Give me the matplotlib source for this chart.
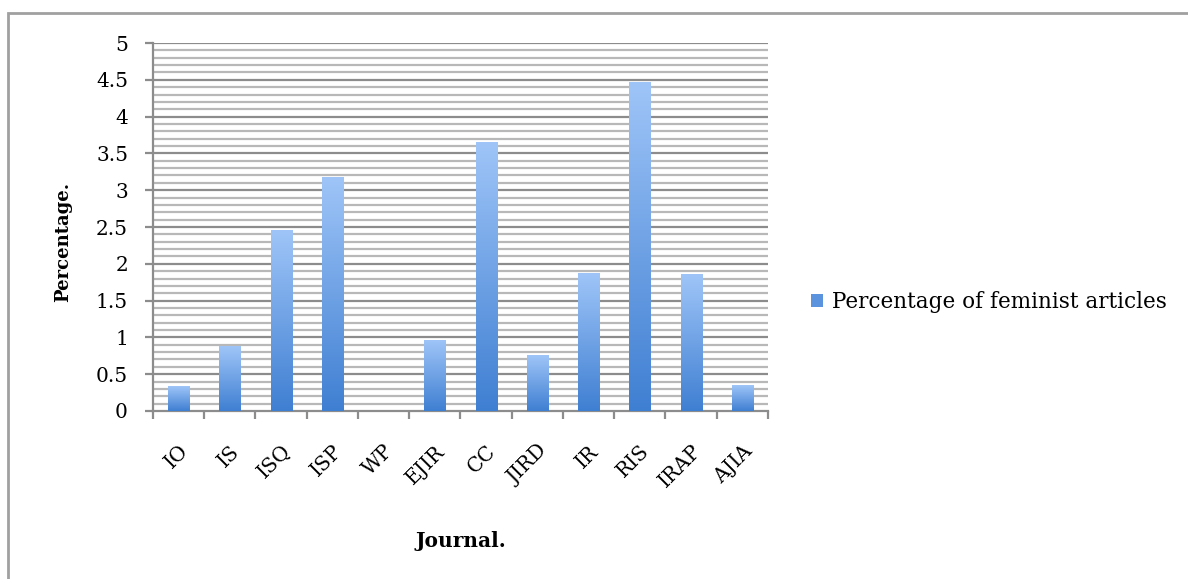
import matplotlib
matplotlib.use("Agg")
import matplotlib.pyplot as plt
import matplotlib.patches as mpatches
from matplotlib.colors import LinearSegmentedColormap
import numpy as np

journals = ["IO", "IS", "ISQ", "ISP", "WP", "EJIR", "CC", "JIRD", "IR", "RIS", "IRAP", "AJIA"]
percent = [0.33, 0.88, 2.45, 3.17, 0.0, 0.96, 3.65, 0.75, 1.87, 4.46, 1.86, 0.34]

plt.rcParams['font.family'] = ['DejaVu Serif']

fig = plt.figure(figsize=(11.88, 5.79), dpi=100)
ax = fig.add_axes([153 / 1188, 168 / 579, 615 / 1188, 368 / 579])

# gradient fill for bars: light on top, darker at base
cmap = LinearSegmentedColormap.from_list("bar", ["#3f7fd2", "#9fc5f8"])
grad = np.linspace(0, 1, 256).reshape(-1, 1)

x = np.arange(len(journals))
bars = ax.bar(x, percent, width=0.41, color='none', edgecolor='none', zorder=3)
for b in bars:
    h = b.get_height()
    if h > 0:
        ax.imshow(grad, extent=[b.get_x(), b.get_x() + b.get_width(), 0, h],
                  aspect='auto', cmap=cmap, origin='lower', zorder=3)

ax.set_xlim(-0.5, len(journals) - 0.5)
ax.set_ylim(0, 5)

# grid lines
for v in np.arange(0.1, 5.01, 0.1):
    major = abs(v * 2 - round(v * 2)) < 1e-6
    ax.axhline(v, color='#8c8c8c' if major else '#b8b8b8', lw=1.6, zorder=1)

ax.set_yticks(np.arange(0, 5.01, 0.5))
ax.set_yticklabels(["0", "0.5", "1", "1.5", "2", "2.5", "3", "3.5", "4", "4.5", "5"])
ax.set_xticks(np.arange(-0.5, len(journals), 1.0))
ax.set_xticklabels([])
ax.set_xticks(x, minor=True)
ax.set_xticklabels(journals, minor=True, rotation=45, ha='right', va='top',
                   rotation_mode='anchor')
ax.tick_params(axis='x', which='minor', length=0, pad=22, labelsize=14.5)
ax.tick_params(axis='x', which='major', length=6, width=1.6, color='#8c8c8c')
ax.tick_params(axis='y', length=6, width=1.6, color='#8c8c8c', labelsize=14.5, pad=12)

for s in ['top', 'right']:
    ax.spines[s].set_visible(False)
for s in ['left', 'bottom']:
    ax.spines[s].set_color('#8c8c8c')
    ax.spines[s].set_linewidth(1.6)

ax.set_ylabel("Percentage.", fontsize=13, fontweight='bold')
ax.yaxis.set_label_coords(-0.132, 0.459)
ax.set_xlabel("Journal.", fontsize=14.5, fontweight='bold')
ax.xaxis.set_label_coords(0.5, -0.326)

handle = mpatches.Patch(facecolor='#5b93de', edgecolor='none')
fig.legend([handle], ["Percentage of feminist articles"], loc='center left',
           bbox_to_anchor=(792 / 1188, 1 - 302 / 579), frameon=False,
           fontsize=15.5, handlelength=0.55, handleheight=0.55, handletextpad=0.4)

# outer chart frame
frame = mpatches.Rectangle((8 / 1188, -0.1), 1.2, (579 - 13) / 579 + 0.1,
                           transform=fig.transFigure, fill=False,
                           edgecolor='#a0a0a0', lw=2)
fig.patches.append(frame)

fig.savefig("out.png", dpi=100)
